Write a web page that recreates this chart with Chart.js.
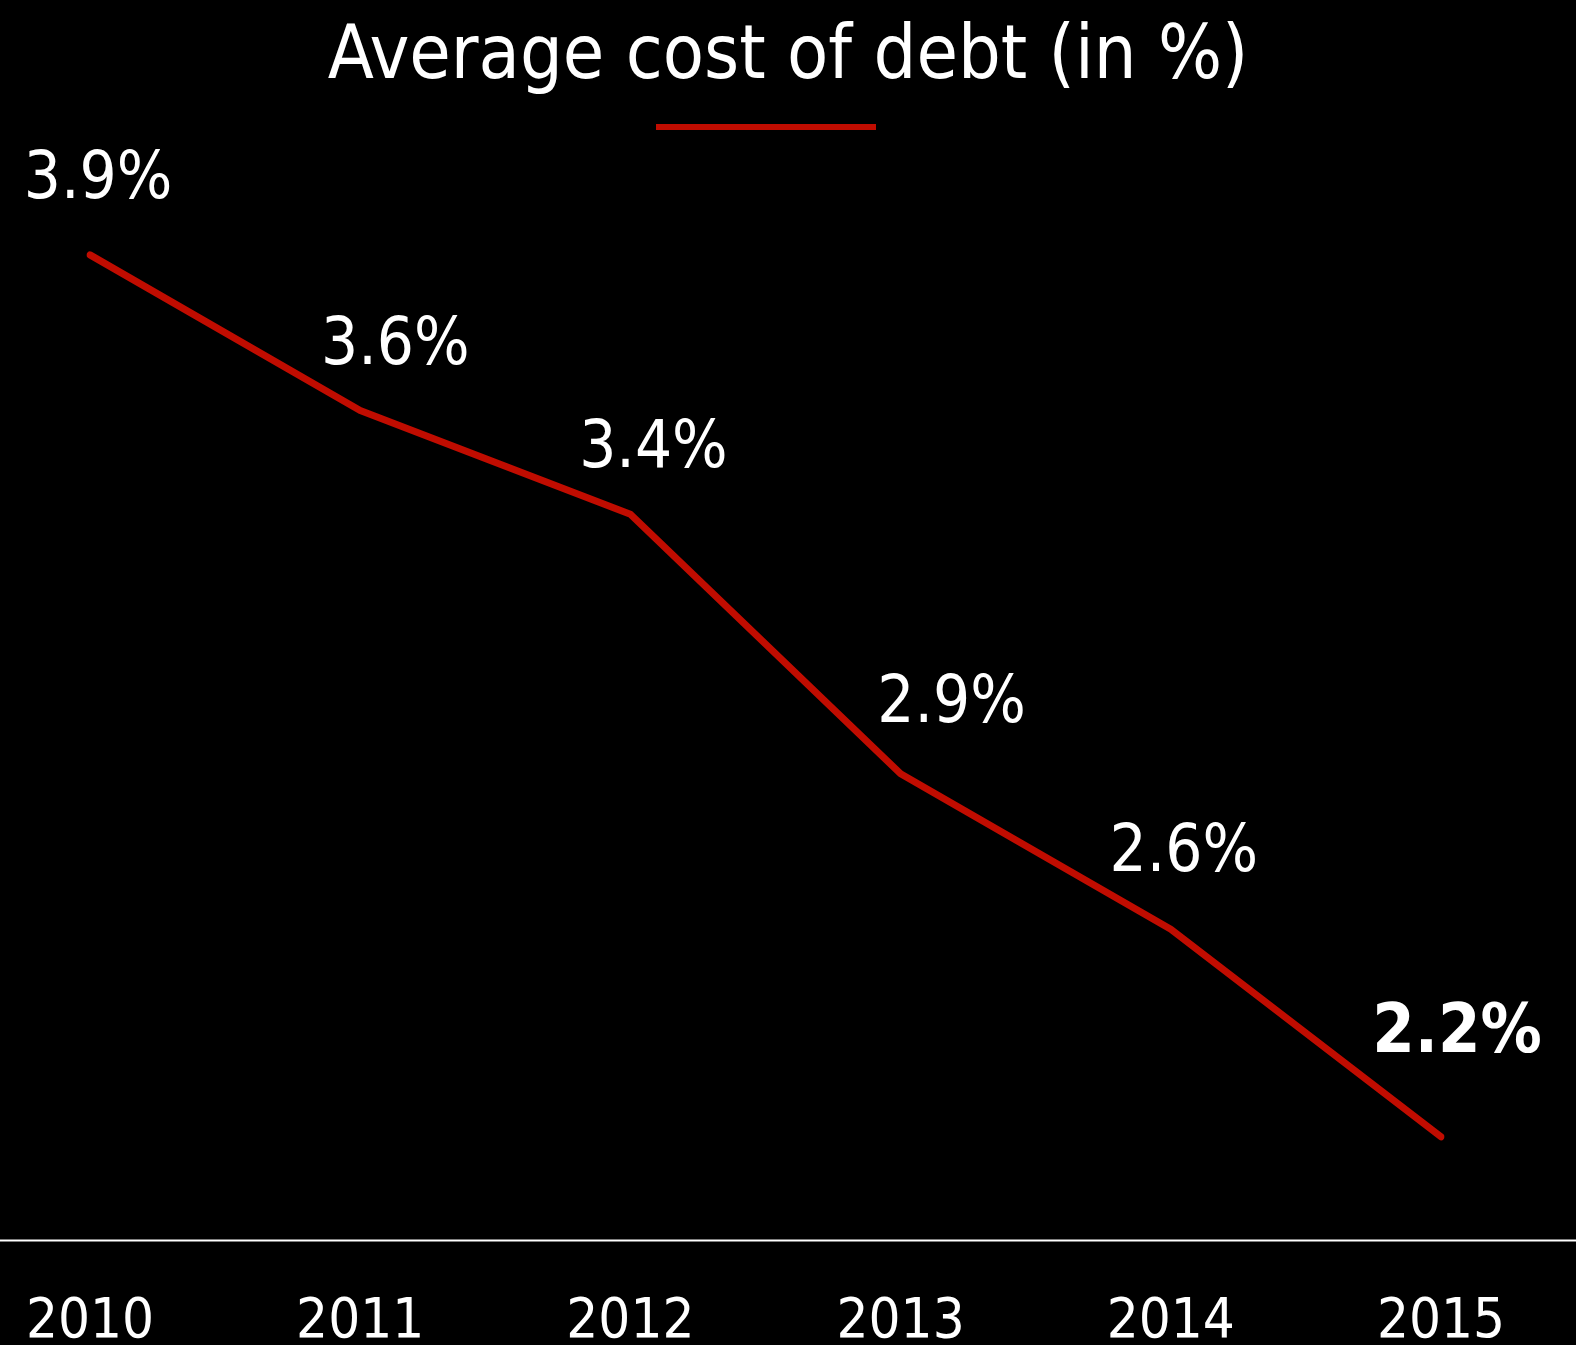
<!DOCTYPE html>
<html>
<head>
<meta charset="utf-8">
<title>Average cost of debt</title>
<script src="https://cdn.jsdelivr.net/npm/chart.js@4"></script>
<style>
    html, body {
        margin: 0;
        padding: 0;
        background: #000;
    }
    .chart-wrap {
        position: relative;
        width: 1576px;
        height: 1345px;
    }
</style>
</head>
<body>
<div class="chart-wrap">
    <canvas id="debtChart"></canvas>
</div>
<script>
const years = ['2010', '2011', '2012', '2013', '2014', '2015'];
const costOfDebt = [3.9, 3.6, 3.4, 2.9, 2.6, 2.2];
const yMin = 2.0;
const yMax = 4.0;

const FONT = "'DejaVu Sans Condensed', 'DejaVu Sans', sans-serif";
const RED = 'rgb(192, 12, 0)';

// where each value label sits relative to its point (dx, dy to baseline)
const labelNudge = [[8, -57], [35, -47], [23, -47], [51, -52], [13, -58], [16, -85]];

// the white baseline runs the full width of the canvas
const baselinePlugin = {
    id: 'baseline',
    afterDraw: function(chart) {
        const ctx = chart.ctx;
        const y = chart.chartArea.bottom;
        ctx.save();
        ctx.strokeStyle = '#fff';
        ctx.lineWidth = 2;
        ctx.beginPath();
        ctx.moveTo(0, y);
        ctx.lineTo(chart.width, y);
        ctx.stroke();
        ctx.restore();
    }
};

// short red rule under the title
const titleRulePlugin = {
    id: 'titleRule',
    afterDraw: function(chart) {
        const ctx = chart.ctx;
        ctx.save();
        ctx.strokeStyle = RED;
        ctx.lineWidth = 6;
        ctx.beginPath();
        ctx.moveTo(656, 127);
        ctx.lineTo(876, 127);
        ctx.stroke();
        ctx.restore();
    }
};

const valueLabelPlugin = {
    id: 'valueLabels',
    afterDatasetsDraw: function(chart) {
        const ctx = chart.ctx;
        const meta = chart.getDatasetMeta(0);
        const values = chart.data.datasets[0].data;
        ctx.save();
        ctx.fillStyle = '#fff';
        ctx.textAlign = 'center';
        ctx.textBaseline = 'alphabetic';
        meta.data.forEach(function(point, i) {
            const last = i === values.length - 1;
            ctx.font = (last ? 'bold 68px ' : '65px ') + FONT;
            const nudge = labelNudge[i];
            ctx.fillText(values[i].toFixed(1) + '%', point.x + nudge[0], point.y + nudge[1]);
        });
        ctx.restore();
    }
};

document.addEventListener('DOMContentLoaded', function() {
    const canvas = document.getElementById('debtChart');

    new Chart(canvas, {
        type: 'line',
        data: {
            labels: years,
            datasets: [{
                label: 'Average cost of debt',
                data: costOfDebt,
                borderColor: RED,
                backgroundColor: RED,
                borderWidth: 7,
                borderCapStyle: 'round',
                borderJoinStyle: 'round',
                pointRadius: 0,
                pointHoverRadius: 0,
                tension: 0,
                fill: false
            }]
        },
        options: {
            responsive: true,
            maintainAspectRatio: false,
            animation: false,
            layout: {
                padding: 0
            },
            plugins: {
                legend: { display: false },
                tooltip: { enabled: false },
                title: {
                    display: true,
                    text: 'Average cost of debt (in %)',
                    color: '#fff',
                    font: { family: FONT, size: 75, weight: 'normal' },
                    padding: { top: 14, bottom: 99 }
                }
            },
            scales: {
                x: {
                    offset: false,
                    grid: { display: false, drawTicks: false },
                    border: { display: false },
                    ticks: {
                        color: '#fff',
                        padding: 0,
                        maxRotation: 0,
                        autoSkip: false,
                        // tall line box pushes the year labels well below the baseline
                        font: { family: FONT, size: 56, lineHeight: 2.92 }
                    },
                    afterFit: function(scale) {
                        // fixed band for the years, and room on the sides so the
                        // first and last years sit inset from the edges
                        scale.height = 104.4;
                        scale.paddingLeft = 90;
                        scale.paddingRight = 135;
                    }
                },
                y: {
                    display: false,
                    min: yMin,
                    max: yMax
                }
            }
        },
        plugins: [baselinePlugin, titleRulePlugin, valueLabelPlugin]
    });
});
</script>
</body>
</html>
